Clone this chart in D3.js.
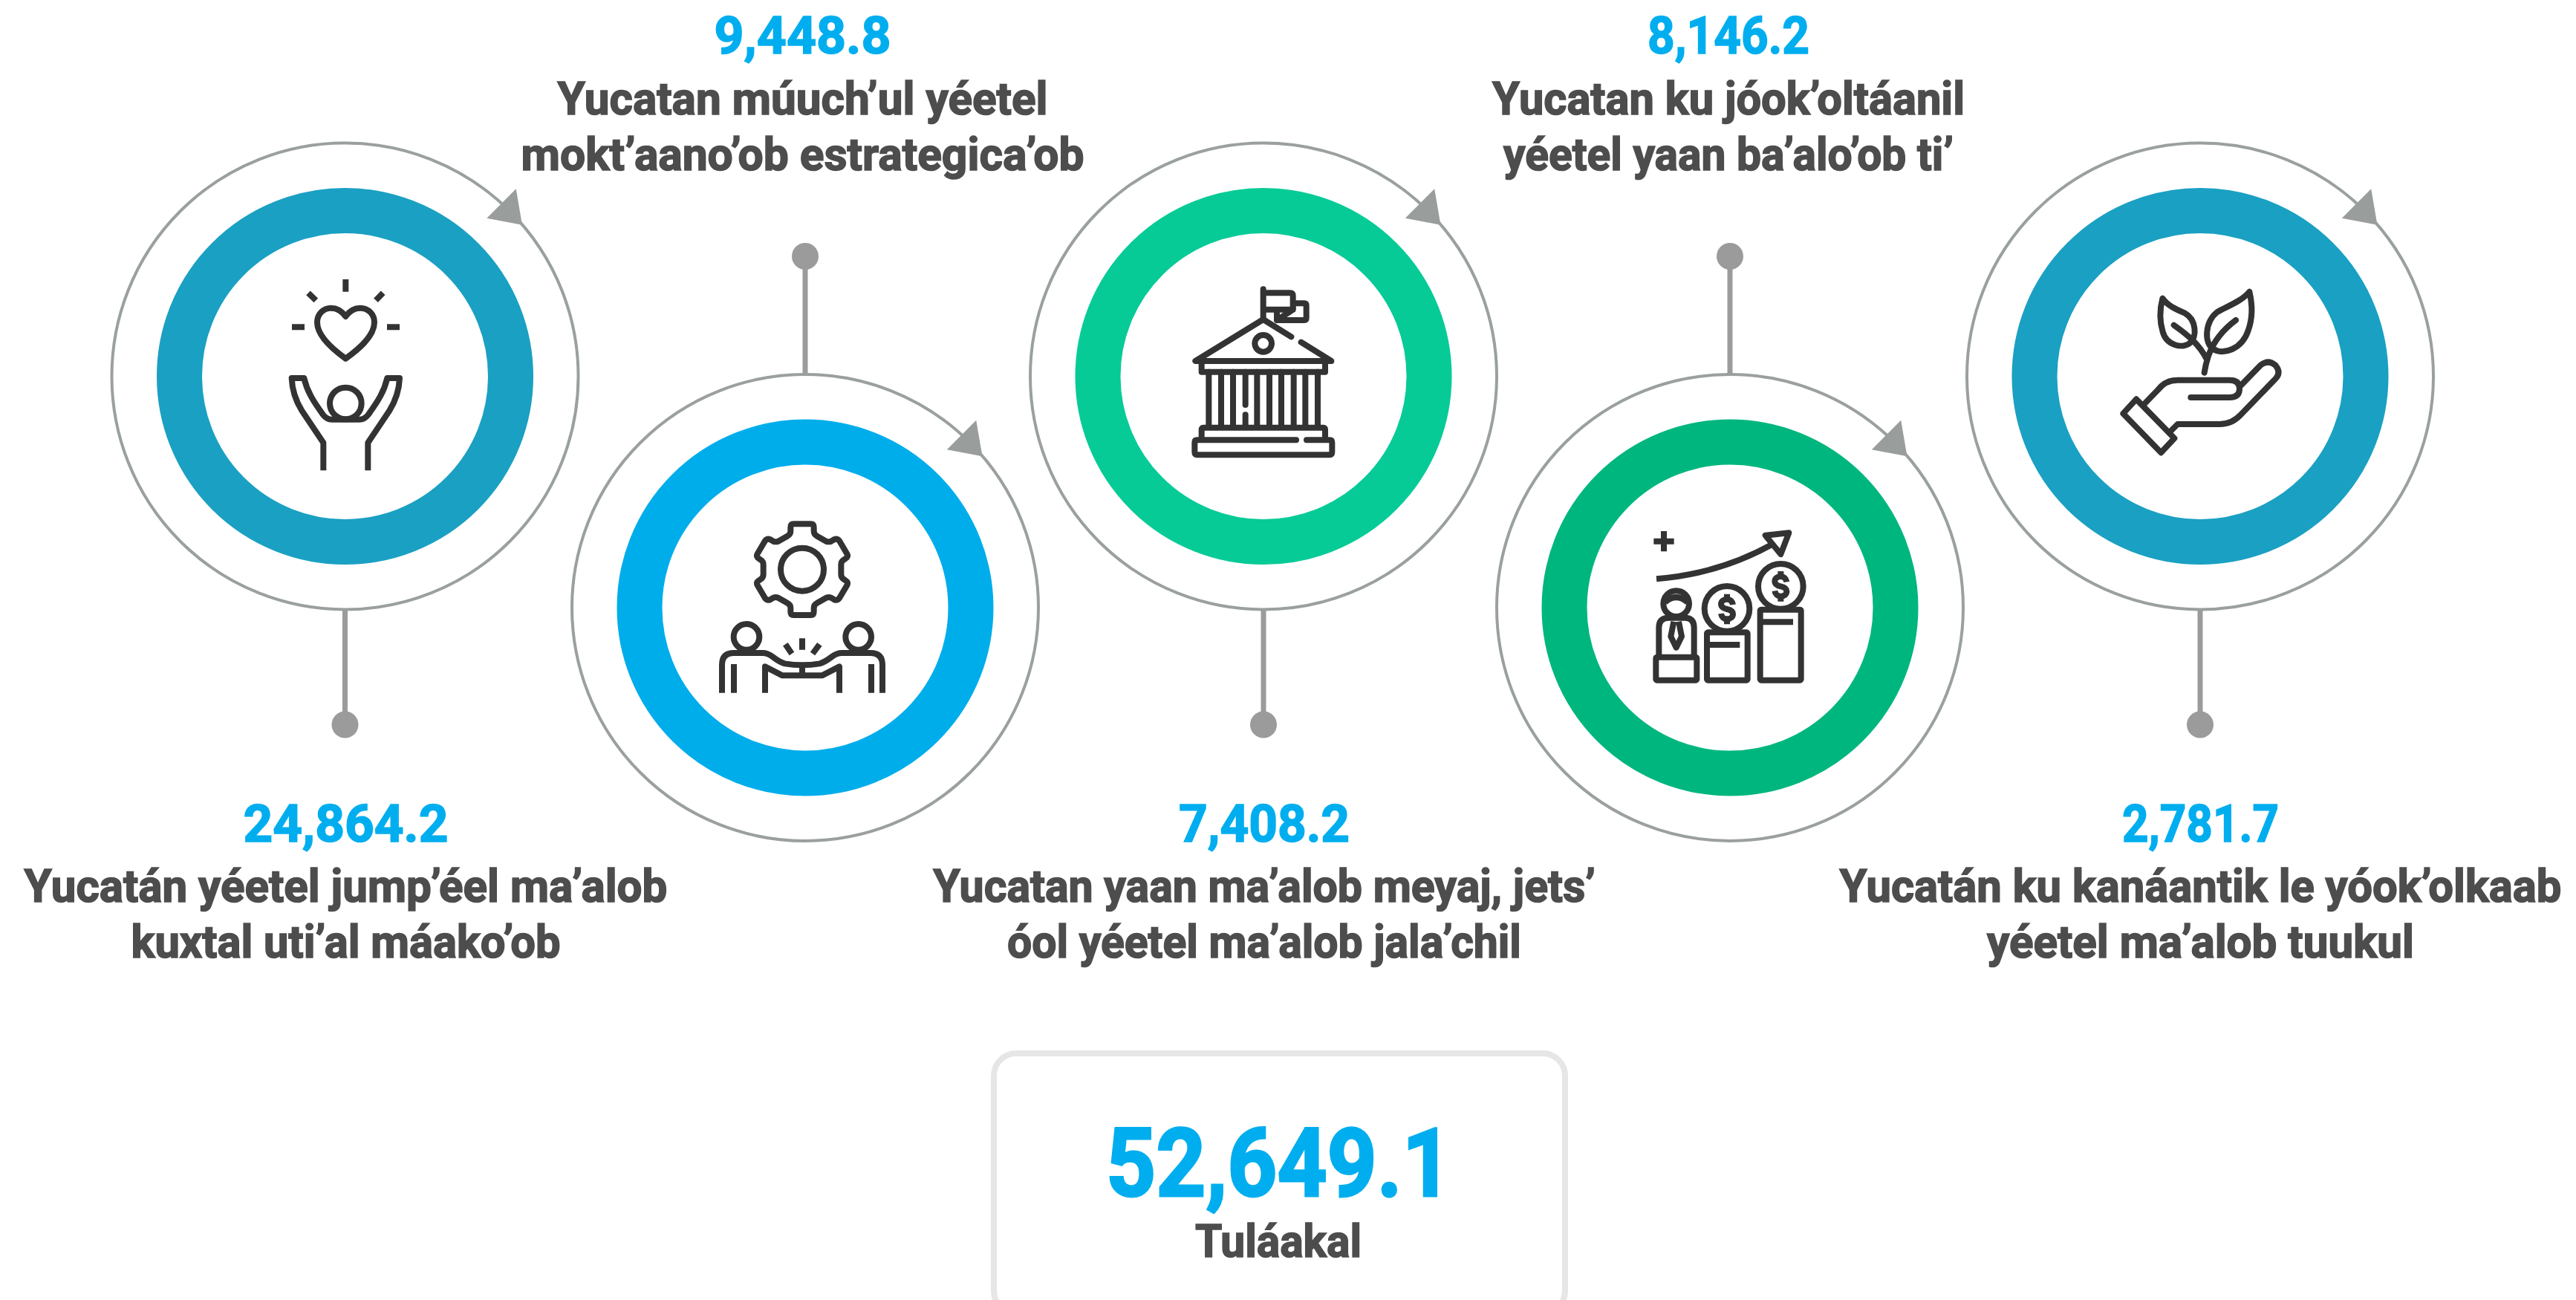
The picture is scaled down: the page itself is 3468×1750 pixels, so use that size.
<!DOCTYPE html>
<html>
<head>
<meta charset="utf-8">
<script src="https://d3js.org/d3.v7.min.js"></script>
<style>
  html, body { margin: 0; padding: 0; background: #fff; overflow: hidden; }
  text { font-family: Roboto, sans-serif; font-weight: 700; }
  .icon path, .icon circle, .icon rect { fill: none; stroke: #333; stroke-width: 24; stroke-linejoin: round; }
</style>
</head>
<body>
<svg width="3468" height="1750"></svg>
<script>
const values = [24864.2, 9448.8, 7408.2, 8146.2, 2781.7];
const firstLines = [
  "Yucatán yéetel jump’éel ma’alob",
  "Yucatan múuch’ul yéetel",
  "Yucatan yaan ma’alob meyaj, jets’",
  "Yucatan ku jóok’oltáanil",
  "Yucatán ku kanáantik le yóok’olkaab"
];
const secondLines = [
  "kuxtal uti’al máako’ob",
  "mokt’aano’ob estrategica’ob",
  "óol yéetel ma’alob jala’chil",
  "yéetel yaan ba’alo’ob ti’",
  "yéetel ma’alob tuukul"
];
const totalLabel = "Tuláakal";
const ringColors = ["#1aa0c2", "#00adeb", "#07cb97", "#00b67f", "#1aa0c2"];

const svg = d3.select("svg");
const fmt = d3.format(",.1f");
const idx = d3.range(values.length);

// the circles are not quite evenly spaced in the original
const x = d3.scaleLinear().domain(idx).range([464.5, 1084, 1701, 2329, 2962]);
const textX = d3.scaleLinear().domain(idx).range([465.5, 1080.5, 1702, 2327, 2962.5]);
const rowY = d3.scaleOrdinal().domain([0, 1]).range([506.5, 818]);
const row = i => i % 2;

// measured widths so the stand-in font fills the same space as the original
const valueW = [276, 238, 230, 218, 211];
const line1W = [866, 660, 892, 636, 972];
const line2W = [578, 758, 692, 606, 575];

const outerR = 314, ringR = 223, ringW = 61, dotR = 18;
const dotY = [975.5, 345];
const arrow = [[230.2, -252.3], [190.8, -212.8], [238.5, -203.7]];

// connectors first so the rings sit on top
svg.selectAll(".stem").data(idx).enter().append("line")
  .attr("class", "stem")
  .attr("x1", i => x(i)).attr("x2", i => x(i))
  .attr("y1", i => rowY(row(i)) + (row(i) ? -outerR : outerR))
  .attr("y2", i => dotY[row(i)])
  .attr("stroke", "#9b9b9b").attr("stroke-width", 7);

svg.selectAll(".dot").data(idx).enter().append("circle")
  .attr("class", "dot")
  .attr("cx", i => x(i)).attr("cy", i => dotY[row(i)])
  .attr("r", dotR).attr("fill", "#9b9b9b");

svg.selectAll(".outer").data(idx).enter().append("circle")
  .attr("class", "outer")
  .attr("cx", i => x(i)).attr("cy", i => rowY(row(i)))
  .attr("r", outerR).attr("fill", "none")
  .attr("stroke", "#9aa09e").attr("stroke-width", 4);

svg.selectAll(".head").data(idx).enter().append("polygon")
  .attr("class", "head")
  .attr("points", i => arrow.map(p => [x(i) + p[0], rowY(row(i)) + p[1]].join(",")).join(" "))
  .attr("fill", "#999d9b");

svg.selectAll(".ring").data(idx).enter().append("circle")
  .attr("class", "ring")
  .attr("cx", i => x(i)).attr("cy", i => rowY(row(i)))
  .attr("r", ringR).attr("fill", "none")
  .attr("stroke", i => ringColors[i]).attr("stroke-width", ringW);

// squeeze a text horizontally to the width it has in the original
function fitText(sel, cx, y, w) {
  const len = sel.node().getComputedTextLength();
  sel.attr("transform", `translate(${cx},${y}) scale(${w / len},1)`);
}

function addLine(txt, cx, y, size, color, w) {
  const t = svg.append("text")
    .attr("text-anchor", "middle")
    .attr("font-size", size)
    .attr("fill", color)
    .attr("stroke", color)
    .attr("stroke-width", size > 100 ? 3 : 1.6)
    .text(txt);
  fitText(t, cx, y, w);
}

const valueY = [1132.5, 72];
const line1Y = [1214, 154];
const line2Y = [1288.7, 228.7];

idx.forEach(i => {
  addLine(fmt(values[i]), textX(i), valueY[row(i)], 70, "#00aeef", valueW[i]);
  addLine(firstLines[i], textX(i), line1Y[row(i)], 62, "#4d4d4d", line1W[i]);
  addLine(secondLines[i], textX(i), line2Y[row(i)], 62, "#4d4d4d", line2W[i]);
});

// total box runs off the bottom of the page
svg.append("rect")
  .attr("x", 1338).attr("y", 1418)
  .attr("width", 769).attr("height", 350)
  .attr("rx", 30).attr("ry", 30)
  .attr("fill", "none").attr("stroke", "#e6e6e6").attr("stroke-width", 8);

addLine(fmt(d3.sum(values)), 1722, 1610, 128, "#00aeef", 466);
addLine(totalLabel, 1721, 1692, 62, "#4d4d4d", 224);

// icons, traced at 3x and scaled back down
const dollar = (cx, cy) =>
  `M${cx} ${cy - 61}V${cy - 44}M${cx} ${cy + 44}V${cy + 61}` +
  `M${cx + 24} ${cy - 18}c-2-14-12-22-24-22c-14 0-24 8-24 20c0 12 10 17 24 20c14 3 24 8 24 20c0 12-10 20-24 20c-12 0-22-8-24-22`;

const icons = [
  {
    dx: -114.5, dy: -166.5,
    paths: [
      "M346 108V158M195 163L226 193M497 163L468 193M129 301H180M513 301H564",
      "M346 258C330 235 310 224 287 224C255 224 231 250 231 282C231 340 300 395 346 428C392 395 462 340 462 282C462 250 438 224 405 224C382 224 362 235 346 258Z",
      "M256 880V768L170 640C145 600 130 560 128 507H178C190 560 215 600 255 655C265 668 275 674 290 674H402C417 674 427 668 437 655C477 600 502 560 514 507H564C562 560 547 600 522 640L436 768V880"
    ],
    circles: [[346, 609, 64]]
  },
  {
    dx: -134, dy: -158,
    paths: [
      "M355 136H425Q437 136 437 150V165Q437 178 450 185L487 206Q497 210 507 206L520 198Q532 194 540 204L570 255Q578 268 566 275L556 282Q547 288 547 300V340Q547 352 556 358L566 365Q578 372 570 385L540 436Q532 446 520 442L507 434Q497 430 487 434L450 455Q437 462 437 475V490Q437 504 425 504H355Q343 504 343 490V475Q343 462 330 455L293 434Q283 430 273 434L260 442Q248 446 240 436L210 385Q202 372 214 365L224 358Q233 352 233 340V300Q233 288 224 282L214 275Q202 268 210 255L240 204Q248 194 260 198L273 206Q283 210 293 206L330 185Q343 178 343 165V150Q343 136 355 136Z",
      "M66 818V705Q66 657 114 657H230Q250 657 270 672Q300 695 320 700Q390 712 460 700Q480 695 510 672Q530 657 550 657H665Q714 657 714 705V818",
      "M114 702V818M669 702V818M240 818V712L310 748H470L540 712V818M390 712V748",
      "M390 598V644M322 622L348 660M460 622L432 660"
    ],
    circles: [[390, 320, 87], [165, 592, 52], [617, 592, 52]]
  },
  {
    dx: -131, dy: -156.5,
    cap: "round",
    paths: [
      "M392 118V240M392 133H500Q512 133 512 145V200H392",
      "M522 175H558Q566 175 566 183V235Q566 243 558 243H447V212M447 243L505 205Q512 200 512 195",
      "M505 310L392 240L118 408H667L545 332",
      "M143 415V452H642V415",
      "M172 452V672M222 452V672M270 452V672M320 452V585M320 625V672M367 452V672M417 452V672M465 452V672M515 452V672M562 452V672M612 452V672",
      "M143 712V685Q143 677 150 677H635Q642 677 642 685V712",
      "M525 727H125Q115 727 115 737V775Q115 787 125 787H660Q670 787 670 775V737Q670 727 660 727H567"
    ],
    circles: [[392, 337, 34]]
  },
  {
    dx: -139, dy: -138,
    paths: [
      "M150 105V187M109 146H191",
      "M120 298C280 285 440 240 585 160",
      "M560 122L655 112L622 198Z",
      "M155 392Q200 352 245 392",
      "M130 612V495Q130 455 170 455H235Q272 455 272 495V612",
      "M190 470L178 530L200 575L222 530L210 470",
      "M334 564H457M549 472H672",
      dollar(405, 420), dollar(622, 328)
    ],
    circles: [[200, 398, 52], [405, 418, 91], [622, 328, 91]],
    rects: [[118, 614, 165, 93], [324, 514, 164, 193], [539, 422, 165, 285]]
  },
  {
    dx: -152, dy: -136.5,
    cap: "round",
    paths: [
      "M304 95C295 130 290 180 305 230C320 285 385 300 415 275C445 250 440 180 395 155C360 140 325 125 304 95Z",
      "M655 68C665 110 670 170 650 225C625 300 550 325 510 300C470 275 475 190 525 150C570 125 625 105 655 68Z",
      "M350 203C410 245 455 285 482 340M600 183C550 220 510 270 490 325M473 395C478 360 485 340 490 325",
      "M198 502L352 660L298 718L145 560Z",
      "M232 520L285 465Q315 425 365 425H575Q615 425 615 460Q615 495 575 495H418",
      "M622 445L700 365Q730 340 760 365Q785 395 760 420L620 565Q585 603 535 603H365L338 630"
    ],
    circles: []
  }
];

icons.forEach((ic, i) => {
  const g = svg.append("g")
    .attr("class", "icon")
    .attr("transform", `translate(${x(i) + ic.dx},${rowY(row(i)) + ic.dy}) scale(${1 / 3})`);
  g.selectAll("path").data(ic.paths).enter().append("path")
    .attr("d", d => d)
    .attr("stroke-linecap", ic.cap || "butt");
  g.selectAll("circle").data(ic.circles).enter().append("circle")
    .attr("cx", d => d[0]).attr("cy", d => d[1]).attr("r", d => d[2]);
  g.selectAll("rect").data(ic.rects || []).enter().append("rect")
    .attr("x", d => d[0]).attr("y", d => d[1])
    .attr("width", d => d[2]).attr("height", d => d[3])
    .attr("rx", 4);
});
</script>
</body>
</html>
